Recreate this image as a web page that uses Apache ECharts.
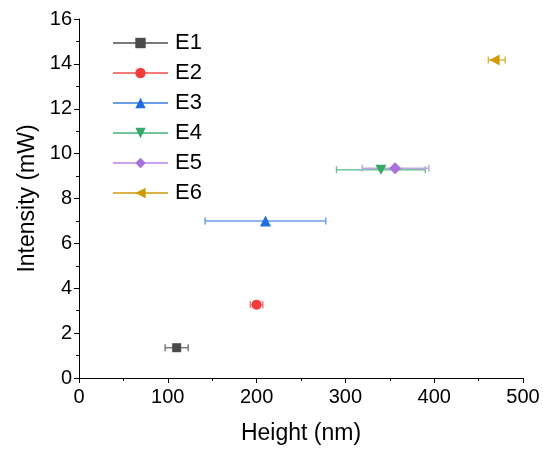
<!DOCTYPE html>
<html><head><meta charset="utf-8">
<script src="https://cdn.jsdelivr.net/npm/echarts@6/dist/echarts.min.js"></script>
<style>html,body{margin:0;padding:0;background:#fff}#c{width:543px;height:452px}</style>
</head><body><div id="c"></div>
<script>
const names = ['E1','E2','E3','E4','E5','E6'];
const heights = [110, 200, 210, 340, 356, 468];
const intensities = [1.35, 3.27, 7.0, 9.28, 9.35, 14.17];
const errLow = [97, 193, 142, 290, 319, 461];
const errHigh = [123, 207, 278, 390, 394, 480];
const xTicks = [0, 100, 200, 300, 400, 500];
const yTicks = [0, 2, 4, 6, 8, 10, 12, 14, 16];

const colors = ['#4a4a4a', '#f23c3c', '#1e6ee0', '#35a86a', '#a96fdc', '#d09a06'];
const barColors = ['#7a7a7a', '#f77a7a', '#6a9ee8', '#72c596', '#c6a3ea', '#dcb445'];
const symbols = ['rect', 'circle', 'triangle', 'path://M0,0 L10,0 L5,9 Z', 'diamond', 'path://M9,0 L9,10 L0,5 Z'];
const sizes = [9, 10, 11, [11,10], 12, [10,11]];
const FONT = 'Liberation Sans, Arial, sans-serif';

const series = [];
names.forEach((n, i) => {
  series.push({
    type: 'custom', name: n + '_err', z: 1, silent: true,
    data: [[heights[i], intensities[i], errLow[i], errHigh[i]]],
    encode: { x: 0, y: 1 },
    renderItem: function (params, api) {
      const p1 = api.coord([api.value(2), api.value(1)]);
      const p2 = api.coord([api.value(3), api.value(1)]);
      const h = 3.5;
      const st = { stroke: barColors[i], lineWidth: 1.5 };
      return { type: 'group', children: [
        { type: 'line', shape: { x1: p1[0], y1: p1[1], x2: p2[0], y2: p2[1] }, style: st },
        { type: 'line', shape: { x1: p1[0], y1: p1[1] - h, x2: p1[0], y2: p1[1] + h }, style: st },
        { type: 'line', shape: { x1: p2[0], y1: p2[1] - h, x2: p2[0], y2: p2[1] + h }, style: st }
      ]};
    }
  });
  series.push({
    type: 'line', name: n, z: 3,
    data: [[heights[i], intensities[i]]],
    symbol: symbols[i], symbolSize: sizes[i], showSymbol: true,
    itemStyle: { color: colors[i] },
    lineStyle: { color: barColors[i], width: 2 },
    animation: false
  });
});

const chart = echarts.init(document.getElementById('c'), null, { renderer: 'canvas' });
chart.setOption({
  animation: false,
  backgroundColor: '#fff',
  grid: { left: 79, right: 20, top: 19, bottom: 74, containLabel: false },
  legend: {
    data: names, orient: 'vertical', left: 112, top: 32, padding: 0,
    itemWidth: 55, itemHeight: 13, itemGap: 8,
    textStyle: { fontFamily: FONT, fontSize: 22, color: '#000', lineHeight: 22, padding: [0,0,0,2] }
  },
  xAxis: {
    type: 'value', min: xTicks[0], max: xTicks[xTicks.length - 1], interval: 100,
    name: 'Height (nm)', nameLocation: 'middle', nameGap: 44,
    nameTextStyle: { fontFamily: FONT, fontSize: 23, color: '#000' },
    axisLine: { show: true, lineStyle: { color: '#000', width: 1 } },
    axisTick: { show: true, inside: false, length: 5, lineStyle: { color: '#000' } },
    minorTick: { show: true, splitNumber: 2, length: 3, lineStyle: { color: '#000' } },
    axisLabel: { fontFamily: FONT, fontSize: 20, color: '#000', margin: 9 },
    splitLine: { show: false }
  },
  yAxis: {
    type: 'value', min: yTicks[0], max: yTicks[yTicks.length - 1], interval: 2,
    name: 'Intensity (mW)', nameLocation: 'middle', nameGap: 40, nameRotate: 90,
    nameTextStyle: { fontFamily: FONT, fontSize: 23, color: '#000' },
    axisLine: { show: true, lineStyle: { color: '#000', width: 1 } },
    axisTick: { show: true, inside: false, length: 5, lineStyle: { color: '#000' } },
    minorTick: { show: true, splitNumber: 2, length: 3, lineStyle: { color: '#000' } },
    axisLabel: { fontFamily: FONT, fontSize: 20, color: '#000', margin: 7 },
    splitLine: { show: false }
  },
  series: series
});
</script></body></html>
